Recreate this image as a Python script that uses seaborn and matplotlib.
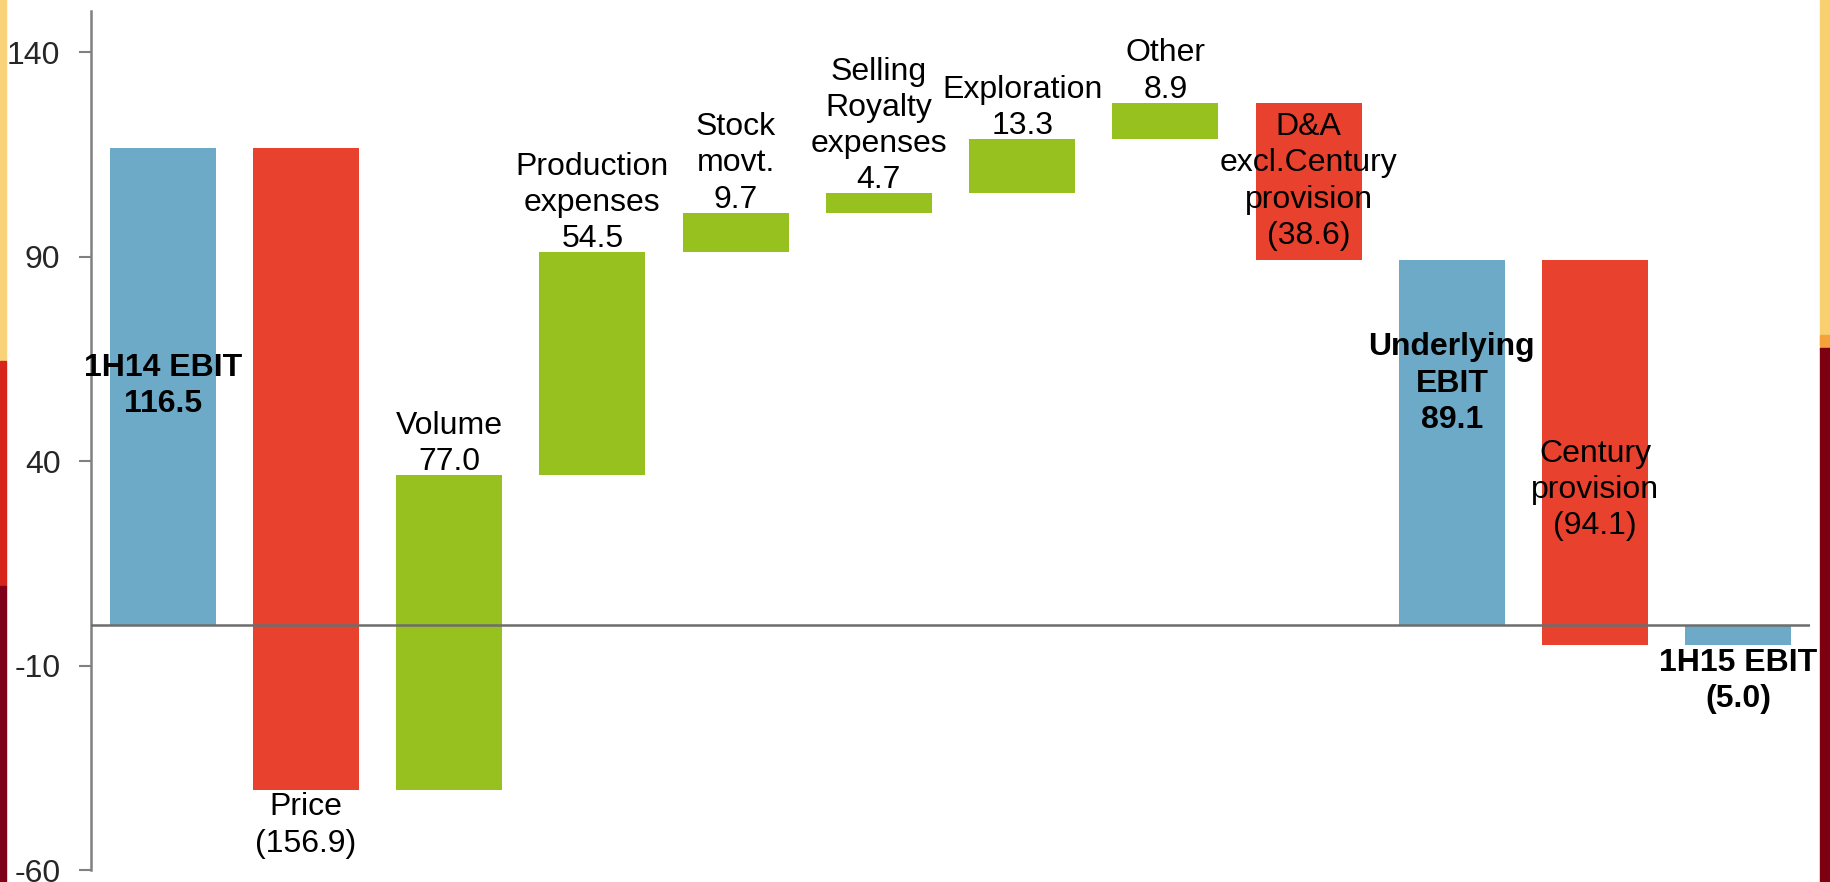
import matplotlib
matplotlib.use("Agg")
import matplotlib.pyplot as plt
from matplotlib.patches import Rectangle
import numpy as np
import pandas as pd
import seaborn as sns

# EBIT bridge, 1H14 -> 1H15 (US$m)
steps = ["1H14 EBIT", "Price", "Volume", "Production\nexpenses", "Stock\nmovt.",
         "Selling\nRoyalty\nexpenses", "Exploration", "Other",
         "D&A\nexcl.Century\nprovision", "Underlying\nEBIT", "Century\nprovision",
         "1H15 EBIT"]
values = [116.5, -156.9, 77.0, 54.5, 9.7, 4.7, 13.3, 8.9, -38.6, 89.1, -94.1, -5.0]
kinds = ["total", "down", "up", "up", "up", "up", "up", "up", "down", "total", "down", "total"]
y_ticks = [-60, -10, 40, 90, 140]

palette = {"total": "#6CAAC8", "down": "#E8412D", "up": "#96C11F"}

# running position of every bar: totals start at zero, movements at the running sum
bottoms, heights = [], []
running = 0.0
for v, k in zip(values, kinds):
    if k == "total":
        bottoms.append(0.0)
        heights.append(v)
        running = v
    else:
        bottoms.append(running)
        heights.append(v)
        running += v

df = pd.DataFrame({"step": steps, "height": heights, "bottom": bottoms, "kind": kinds})

sns.set_style("white")
plt.rcParams["font.family"] = ["Liberation Sans", "DejaVu Sans"]
plt.rcParams["axes.unicode_minus"] = False

W, H = 1831, 882
fig = plt.figure(figsize=(W / 100, H / 100), dpi=100)
ax = fig.add_axes([91 / W, 12 / H, (1810 - 91) / W, (870.5 - 12) / H])

sns.barplot(data=df, x="step", y="height", color=palette["total"], width=0.74,
            ax=ax, saturation=1, errorbar=None)

for patch, b, k in zip(ax.patches, df["bottom"], df["kind"]):
    patch.set_y(b)
    patch.set_facecolor(palette[k])
    patch.set_edgecolor("none")

ax.set_xlim(-0.5, 11.5)
ax.set_ylim(-60, 150)
ax.set_yticks(y_ticks)
ax.set_xticks([])
ax.set_xlabel("")
ax.set_ylabel("")
ax.tick_params(axis="y", labelsize=23, length=9, width=1.5, color="#808080",
               pad=13, left=True)
for side in ["top", "right", "bottom"]:
    ax.spines[side].set_visible(False)
ax.spines["left"].set_color("#808080")
ax.spines["left"].set_linewidth(1.8)
ax.axhline(0, color="#6d6d6d", lw=1.8, zorder=3)


def fmt(v):
    return f"({abs(v):.1f})" if v < 0 else f"{v:.1f}"


# label placement for each bar: (mode, y for 'at' mode, bold)
placement = [
    ("at", 58.3, True),
    ("below", None, False),
    ("above", None, False),
    ("above", None, False),
    ("above", None, False),
    ("above", None, False),
    ("above", None, False),
    ("above", None, False),
    ("mid", None, False),
    ("at", 59.0, True),
    ("at", 33.0, False),
    ("below", None, True),
]

for i, (name, v, b) in enumerate(zip(steps, heights, bottoms)):
    mode, ypos, bold = placement[i]
    lo, hi = min(b, b + v), max(b, b + v)
    text = f"{name}\n{fmt(values[i])}"
    kw = dict(ha="center", fontsize=23, color="black", linespacing=1.27,
              fontweight="bold" if bold else "normal", zorder=5, clip_on=False)
    if mode == "above":
        ax.text(i, hi - 0.5, text, va="bottom", **kw)
    elif mode == "below":
        ax.text(i, lo - 0.6, text, va="top", **kw)
    elif mode == "mid":
        ax.text(i, (lo + hi) / 2, text, va="center", **kw)
    else:
        ax.text(i, ypos, text, va="center", **kw)

# slide border strips on both edges
def strip(x0, x1, y0, y1, color):
    fig.patches.append(Rectangle((x0 / W, 1 - y1 / H), (x1 - x0) / W, (y1 - y0) / H,
                                 transform=fig.transFigure, color=color, zorder=0))

strip(0, 6, 0, 361, "#FAD27A")
strip(0, 6, 361, 586, "#D8251B")
strip(0, 6, 586, 882, "#7E0019")
strip(1820, 1831, 0, 345, "#F8D070")
strip(1820, 1831, 335, 350, "#F5A23A")
strip(1820, 1831, 348, 882, "#7E0010")

fig.savefig("out.png", dpi=100)
